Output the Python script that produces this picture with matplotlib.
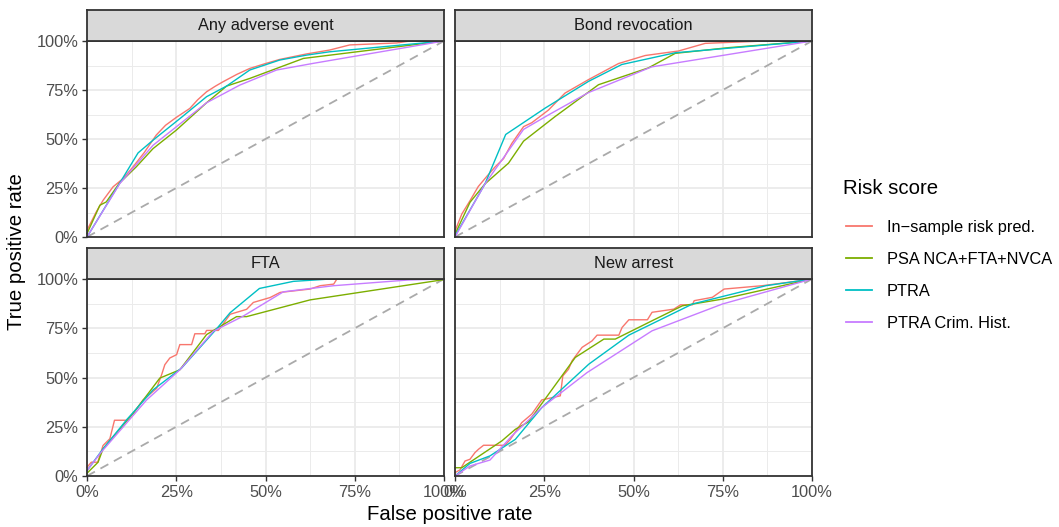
import numpy as np
import matplotlib
matplotlib.use("Agg")
import matplotlib.pyplot as plt
from matplotlib.lines import Line2D

plt.rcParams['font.family'] = ['Liberation Sans', 'DejaVu Sans']

panels = ["Any adverse event", "Bond revocation", "FTA", "New arrest"]
scores = ["In\u2212sample risk pred.", "PSA NCA+FTA+NVCA", "PTRA", "PTRA Crim. Hist."]
colors = ["#F8766D", "#7CAE00", "#00BFC4", "#C77CFF"]
ticks = [0, 0.25, 0.5, 0.75, 1.0]
tick_labels = ["0%", "25%", "50%", "75%", "100%"]

# ROC curves: (fpr, tpr) for each panel and score
any_red_x = [0, 0.026, 0.045, 0.073, 0.101, 0.129, 0.160, 0.194, 0.22, 0.25, 0.288, 0.31, 0.335, 0.36, 0.381, 0.42, 0.456, 0.50, 0.540, 0.615, 0.680, 0.736, 0.867, 0.905, 1]
any_red_y = [0.034, 0.128, 0.187, 0.256, 0.298, 0.358, 0.43, 0.520, 0.57, 0.610, 0.656, 0.70, 0.741, 0.77, 0.792, 0.83, 0.860, 0.885, 0.906, 0.934, 0.954, 0.980, 0.990, 1.0, 1]
any_psa_x = [0, 0.036, 0.054, 0.09, 0.138, 0.185, 0.25, 0.335, 0.391, 0.456, 0.531, 0.606, 1]
any_psa_y = [0.017, 0.162, 0.179, 0.273, 0.358, 0.451, 0.545, 0.685, 0.770, 0.809, 0.860, 0.911, 1]
any_ptra_x = [0, 0.143, 0.185, 0.269, 0.335, 0.391, 0.456, 0.540, 0.615, 0.680, 1]
any_ptra_y = [0, 0.429, 0.494, 0.617, 0.716, 0.770, 0.852, 0.903, 0.928, 0.945, 1]
any_crim_x = [0, 0.092, 0.185, 0.335, 0.428, 0.531, 0.634, 1]
any_crim_y = [0, 0.273, 0.468, 0.685, 0.775, 0.852, 0.886, 1]

bond_red_x = [0, 0.019, 0.042, 0.065, 0.089, 0.112, 0.136, 0.159, 0.192, 0.215, 0.262, 0.308, 0.374, 0.458, 0.533, 0.626, 0.701, 0.869, 1]
bond_red_y = [0.03, 0.117, 0.185, 0.257, 0.309, 0.357, 0.40, 0.477, 0.563, 0.583, 0.648, 0.734, 0.803, 0.885, 0.926, 0.949, 0.988, 1.0, 1]
bond_psa_x = [0, 0.042, 0.084, 0.150, 0.192, 0.280, 0.402, 0.542, 0.617, 0.766, 1]
bond_psa_y = [0.014, 0.177, 0.271, 0.377, 0.489, 0.614, 0.777, 0.863, 0.937, 0.966, 1]
bond_ptra_x = [0, 0.084, 0.142, 0.252, 0.308, 0.374, 0.467, 0.617, 1]
bond_ptra_y = [0.005, 0.271, 0.523, 0.657, 0.720, 0.794, 0.880, 0.940, 1]
bond_crim_x = [0, 0.084, 0.192, 0.262, 0.374, 0.551, 1]
bond_crim_y = [0, 0.271, 0.549, 0.623, 0.737, 0.868, 1]

fta_red_x = [0, 0.012, 0.03, 0.045, 0.064, 0.077, 0.11, 0.129, 0.157, 0.195, 0.209, 0.218, 0.232, 0.251, 0.26, 0.293, 0.302, 0.330, 0.335, 0.368, 0.401, 0.447, 0.466, 0.513, 0.541, 0.625, 0.653, 0.691, 0.700, 1]
fta_red_y = [0.044, 0.07, 0.07, 0.155, 0.189, 0.283, 0.283, 0.317, 0.386, 0.445, 0.514, 0.565, 0.599, 0.616, 0.667, 0.667, 0.722, 0.722, 0.739, 0.739, 0.821, 0.846, 0.881, 0.906, 0.932, 0.949, 0.966, 0.974, 1.0, 1]
fta_psa_x = [0, 0.031, 0.045, 0.129, 0.204, 0.26, 0.335, 0.419, 0.447, 0.625, 1]
fta_psa_y = [0.014, 0.070, 0.138, 0.317, 0.497, 0.539, 0.718, 0.809, 0.809, 0.894, 0.997]
fta_ptra_x = [0, 0.045, 0.11, 0.185, 0.265, 0.363, 0.401, 0.483, 0.578, 0.682, 1]
fta_ptra_y = [0.027, 0.138, 0.283, 0.437, 0.548, 0.747, 0.829, 0.952, 0.988, 1.0, 1]
fta_crim_x = [0, 0.036, 0.167, 0.26, 0.354, 0.438, 0.55, 0.691, 0.90, 1]
fta_crim_y = [0.027, 0.113, 0.386, 0.539, 0.735, 0.812, 0.935, 0.966, 0.995, 1]

arr_red_x = [0, 0.014, 0.028, 0.042, 0.056, 0.066, 0.080, 0.14, 0.155, 0.187, 0.215, 0.243, 0.295, 0.302, 0.318, 0.328, 0.356, 0.384, 0.398, 0.459, 0.468, 0.487, 0.539, 0.552, 0.613, 0.632, 0.665, 0.670, 0.721, 0.754, 0.861, 0.946, 1]
arr_red_y = [0.017, 0.031, 0.076, 0.085, 0.119, 0.136, 0.156, 0.156, 0.186, 0.271, 0.314, 0.386, 0.407, 0.508, 0.542, 0.585, 0.653, 0.686, 0.715, 0.715, 0.754, 0.793, 0.793, 0.831, 0.847, 0.869, 0.869, 0.890, 0.907, 0.949, 0.966, 0.986, 1]
arr_psa_x = [0, 0.019, 0.037, 0.131, 0.169, 0.206, 0.337, 0.417, 0.449, 0.552, 0.637, 0.749, 1]
arr_psa_y = [0.042, 0.042, 0.064, 0.178, 0.237, 0.275, 0.602, 0.695, 0.695, 0.788, 0.864, 0.898, 1]
arr_ptra_x = [0, 0.042, 0.098, 0.169, 0.243, 0.375, 0.487, 0.665, 0.871, 1]
arr_ptra_y = [0, 0.064, 0.102, 0.186, 0.347, 0.568, 0.715, 0.873, 0.966, 1]
arr_crim_x = [0, 0.042, 0.098, 0.159, 0.243, 0.37, 0.552, 0.749, 1]
arr_crim_y = [0, 0.051, 0.081, 0.203, 0.347, 0.525, 0.737, 0.873, 1]

curves = {
    "Any adverse event": [(any_red_x, any_red_y), (any_psa_x, any_psa_y), (any_ptra_x, any_ptra_y), (any_crim_x, any_crim_y)],
    "Bond revocation": [(bond_red_x, bond_red_y), (bond_psa_x, bond_psa_y), (bond_ptra_x, bond_ptra_y), (bond_crim_x, bond_crim_y)],
    "FTA": [(fta_red_x, fta_red_y), (fta_psa_x, fta_psa_y), (fta_ptra_x, fta_ptra_y), (fta_crim_x, fta_crim_y)],
    "New arrest": [(arr_red_x, arr_red_y), (arr_psa_x, arr_psa_y), (arr_ptra_x, arr_ptra_y), (arr_crim_x, arr_crim_y)],
}

W, H = 1059, 527
fig = plt.figure(figsize=(W / 100, H / 100), dpi=100)

# panel boxes in pixels: left, top, right, bottom
boxes = [(87, 41, 444, 237), (455, 41, 812, 237), (87, 279, 444, 476), (455, 279, 812, 476)]
strip_h = 31

for i, name in enumerate(panels):
    l, t, r, b = boxes[i]
    ax = fig.add_axes([l / W, 1 - b / H, (r - l) / W, (b - t) / H])
    ax.set_xlim(0, 1)
    ax.set_ylim(0, 1)
    ax.set_xticks(ticks)
    ax.set_yticks(ticks)
    ax.set_xticks([0.125, 0.375, 0.625, 0.875], minor=True)
    ax.set_yticks([0.125, 0.375, 0.625, 0.875], minor=True)
    ax.grid(which='major', color='#EBEBEB', linewidth=1.3)
    ax.grid(which='minor', color='#EBEBEB', linewidth=0.7)
    ax.set_axisbelow(True)
    ax.tick_params(which='minor', length=0)
    ax.tick_params(which='major', length=3.7, color='#333333', width=1.0, labelsize=11.8, labelcolor='#4D4D4D', pad=2.5)
    if i in (2, 3):
        ax.set_xticklabels(tick_labels)
    else:
        ax.set_xticklabels([])
        ax.tick_params(axis='x', length=0)
    if i in (0, 2):
        ax.set_yticklabels(tick_labels)
    else:
        ax.set_yticklabels([])
        ax.tick_params(axis='y', length=0)
    for s in ax.spines.values():
        s.set_color('#333333')
        s.set_linewidth(1.3)

    ax.plot([0, 1], [0, 1], color='#AAAAAA', linestyle=(0, (5, 3.5)), linewidth=1.3)
    for (xs, ys), c in zip(curves[name], colors):
        ax.plot(xs, ys, color=c, linewidth=1.0, clip_on=False)

    sax = fig.add_axes([l / W, 1 - t / H, (r - l) / W, strip_h / H])
    sax.set_facecolor('#D9D9D9')
    sax.set_xticks([])
    sax.set_yticks([])
    for s in sax.spines.values():
        s.set_color('#333333')
        s.set_linewidth(1.3)
    sax.text(0.5, 0.5, name, ha='center', va='center', fontsize=11.8, color='#1A1A1A', transform=sax.transAxes)

fig.text(449.5 / W, 1 - 514 / H, "False positive rate", ha='center', va='center', fontsize=14.7)
fig.text(17 / W, 1 - 252 / H, "True positive rate", ha='center', va='center', rotation=90, fontsize=14.7)

# legend (title drawn separately so the gap above the keys matches)
fig.text(843 / W, 1 - 188 / H, "Risk score", ha='left', va='center', fontsize=14.7)
handles = [Line2D([], [], color=c, linewidth=1.3) for c in colors]
fig.legend(handles, scores, loc='upper left', bbox_to_anchor=(831 / W, 1 - 205 / H),
           frameon=False, fontsize=11.8, handlelength=1.6, labelspacing=1.04,
           handletextpad=0.9)

fig.savefig("out.png", dpi=100)
